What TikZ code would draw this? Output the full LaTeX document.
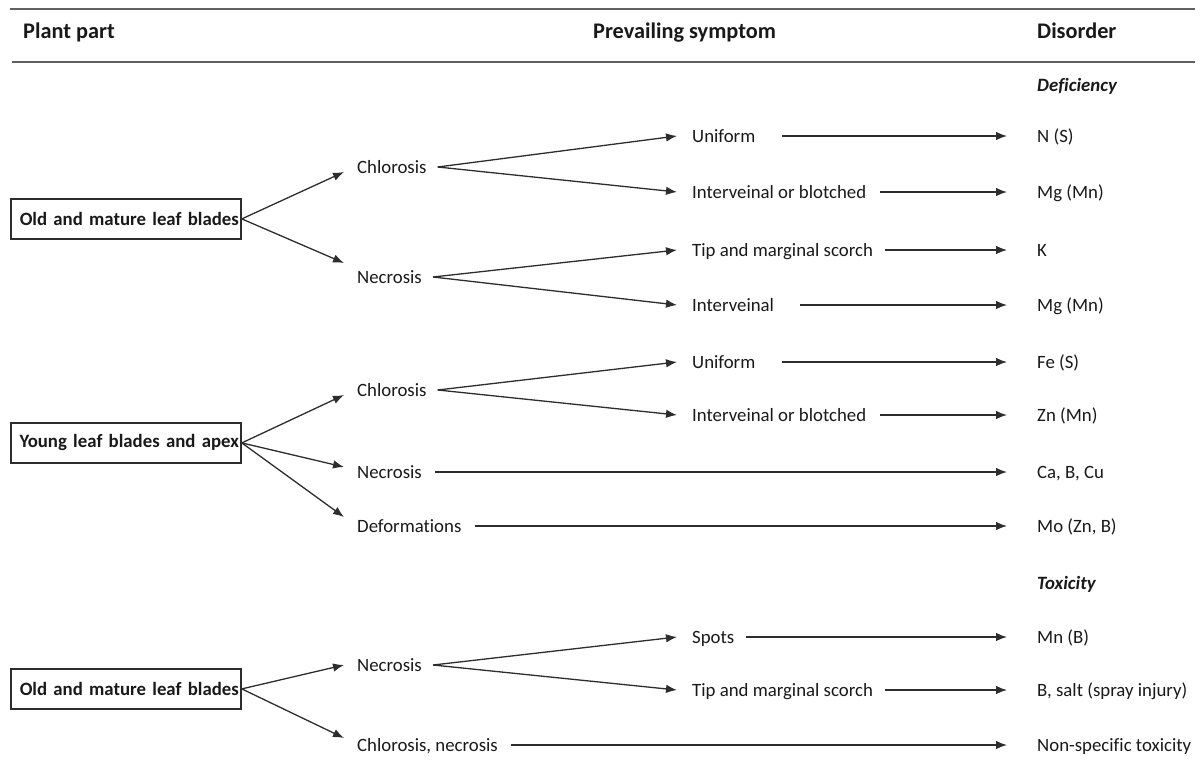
\documentclass[tikz,border=0pt]{standalone}
\usepackage{fontspec}
\setmainfont[Ligatures=NoCommon]{Carlito}
\usetikzlibrary{arrows.meta}
\definecolor{linec}{RGB}{45,45,45}
\definecolor{txtc}{RGB}{25,25,25}
\newcommand{\bodyfs}{\fontsize{18.8}{22}\selectfont}
\newcommand{\headfs}{\fontsize{22.3}{26}\selectfont\bfseries}
\begin{document}
\begin{tikzpicture}[x=1pt,y=-1pt,
  lbl/.style={anchor=west, inner sep=0pt, text height=12pt, text depth=0pt, font=\bodyfs, text=txtc},
  hd/.style={anchor=west, inner sep=0pt, text height=14pt, text depth=0pt, font=\headfs, text=txtc},
  cat/.style={anchor=west, inner sep=0pt, text height=12pt, text depth=0pt, font=\bodyfs\bfseries\itshape, text=txtc},
  boxn/.style={draw=linec, line width=1.8pt, anchor=north west, minimum height=40pt, text width=226pt, align=right, inner xsep=2pt, inner ysep=0pt, font=\bodyfs\bfseries, text=txtc},
  arr/.style={-{Latex[length=11pt,width=8.5pt]}, line width=1.3pt, draw=linec},
  hline/.style={line width=2pt, draw=linec!75}
]
\useasboundingbox (0,0) rectangle (1202,760);
% header rules
\draw[hline] (10,9) -- (1195,9);
\draw[hline] (12,62) -- (1195,62);
% headers
\node[hd] (hplant) at (23,32) {Plant part};
\node[hd] (hsym) at (593,32) {Prevailing symptom};
\node[hd] (hdis) at (1037,32) {Disorder};
\node[cat] (defi) at (1037,86) {Deficiency};
\node[cat] (toxi) at (1037,583) {Toxicity};
% boxes
\node[boxn] (box1) at (10,198) {Old and mature leaf blades};
\node[boxn] (box2) at (10,422) {Young leaf blades and apex};
\node[boxn] (box3) at (10,668) {Old and mature leaf blades};
% level 1
\node[lbl] (chl1) at (357,167) {Chlorosis};
\node[lbl] (nec1) at (357,277) {Necrosis};
\node[lbl] (chl2) at (357,390) {Chlorosis};
\node[lbl] (nec2) at (357,472) {Necrosis};
\node[lbl] (def2) at (357,526) {Deformations};
\node[lbl] (nec3) at (357,665) {Necrosis};
\node[lbl] (chn3) at (357,745) {Chlorosis, necrosis};
% level 2
\node[lbl] (uni1) at (692,136) {Uniform};
\node[lbl] (ivb1) at (692,192) {Interveinal or blotched};
\node[lbl] (tms1) at (692,250) {Tip and marginal scorch};
\node[lbl] (ivn1) at (692,305) {Interveinal};
\node[lbl] (uni2) at (692,362) {Uniform};
\node[lbl] (ivb2) at (692,415) {Interveinal or blotched};
\node[lbl] (spt3) at (692,637) {Spots};
\node[lbl] (tms3) at (692,690) {Tip and marginal scorch};
% disorders
\node[lbl] (dN) at (1037,136) {N (S)};
\node[lbl] (dMg1) at (1037,192) {Mg (Mn)};
\node[lbl] (dK) at (1037,250) {K};
\node[lbl] (dMg2) at (1037,305) {Mg (Mn)};
\node[lbl] (dFe) at (1037,362) {Fe (S)};
\node[lbl] (dZn) at (1037,415) {Zn (Mn)};
\node[lbl] (dCa) at (1037,472) {Ca, B, Cu};
\node[lbl] (dMo) at (1037,526) {Mo (Zn, B)};
\node[lbl] (dMn) at (1037,637) {Mn (B)};
\node[lbl] (dB) at (1037,690) {B, salt (spray injury)};
\node[lbl] (dNS) at (1037,745) {Non-specific toxicity};
% level-1 arrows
\draw[arr] (box1.east) -- ([xshift=-13pt,yshift=-5pt]chl1.west);
\draw[arr] (box1.east) -- ([xshift=-13pt,yshift=14pt]nec1.west);
\draw[arr] (box2.east) -- ([xshift=-13pt,yshift=-5pt]chl2.west);
\draw[arr] (box2.east) -- ([xshift=-13pt,yshift=5pt]nec2.west);
\draw[arr] (box2.east) -- ([xshift=-13pt,yshift=9pt]def2.west);
\draw[arr] (box3.east) -- ([xshift=-13pt,yshift=0pt]nec3.west);
\draw[arr] (box3.east) -- ([xshift=-13pt,yshift=7pt]chn3.west);
% level-2 arrows
\draw[arr] ([xshift=11pt]chl1.east) -- ([xshift=-15pt]uni1.west);
\draw[arr] ([xshift=11pt]chl1.east) -- ([xshift=-15pt]ivb1.west);
\draw[arr] ([xshift=11pt]nec1.east) -- ([xshift=-15pt]tms1.west);
\draw[arr] ([xshift=11pt]nec1.east) -- ([xshift=-15pt]ivn1.west);
\draw[arr] ([xshift=11pt]chl2.east) -- ([xshift=-15pt]uni2.west);
\draw[arr] ([xshift=11pt]chl2.east) -- ([xshift=-15pt]ivb2.west);
\draw[arr] ([xshift=11pt]nec3.east) -- ([xshift=-15pt]spt3.west);
\draw[arr] ([xshift=11pt]nec3.east) -- ([xshift=-15pt]tms3.west);
% level-3 arrows
\draw[arr] ([xshift=27pt]uni1.east) -- ([xshift=-30pt]dN.west);
\draw[arr] ([xshift=14pt]ivb1.east) -- ([xshift=-30pt]dMg1.west);
\draw[arr] ([xshift=12pt]tms1.east) -- ([xshift=-30pt]dK.west);
\draw[arr] ([xshift=26pt]ivn1.east) -- ([xshift=-30pt]dMg2.west);
\draw[arr] ([xshift=27pt]uni2.east) -- ([xshift=-30pt]dFe.west);
\draw[arr] ([xshift=14pt]ivb2.east) -- ([xshift=-30pt]dZn.west);
\draw[arr] ([xshift=13pt]nec2.east) -- ([xshift=-30pt]dCa.west);
\draw[arr] ([xshift=13pt]def2.east) -- ([xshift=-30pt]dMo.west);
\draw[arr] ([xshift=12pt]spt3.east) -- ([xshift=-30pt]dMn.west);
\draw[arr] ([xshift=12pt]tms3.east) -- ([xshift=-30pt]dB.west);
\draw[arr] ([xshift=13pt]chn3.east) -- ([xshift=-30pt]dNS.west);
\end{tikzpicture}
\end{document}
